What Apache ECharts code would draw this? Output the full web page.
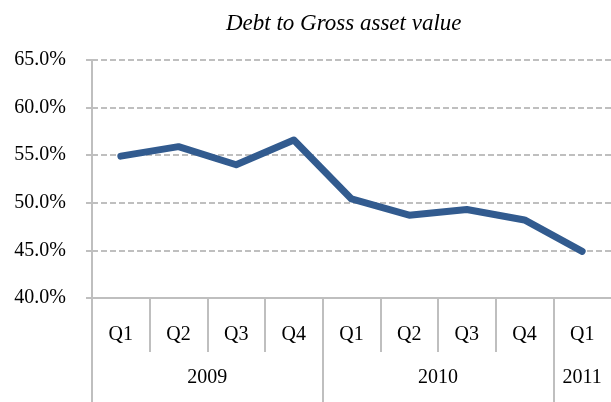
<!DOCTYPE html>
<html>
<head>
<meta charset="utf-8">
<script src="https://cdn.jsdelivr.net/npm/echarts@6/dist/echarts.min.js"></script>
<style>
  html, body { margin: 0; padding: 0; background: #fff; }
  #chart { width: 611px; height: 402px; }
</style>
</head>
<body>
<div id="chart"></div>
<script>
const quarters = ['Q1', 'Q2', 'Q3', 'Q4', 'Q1', 'Q2', 'Q3', 'Q4', 'Q1']
const debtRatio = [54.9, 55.9, 54.0, 56.6, 50.4, 48.7, 49.3, 48.2, 44.9]
// years as [label, first quarter index, quarter count]
const years = [['2009', 0, 4], ['2010', 4, 4], ['2011', 8, 1]]

const font = 'Liberation Serif'
const grey = '#bfbfbf'

const quarterBounds = quarters.map((q, i) => i)
const yearBounds = years.map(y => y[1])
const yearCenters = years.map(y => y[1] + y[2] / 2)

const chart = echarts.init(document.getElementById('chart'))

chart.setOption({
  animation: false,
  title: {
    text: 'Debt to Gross asset value',
    left: 226,
    top: 12,
    padding: 0,
    textStyle: {
      fontFamily: font,
      fontStyle: 'italic',
      fontWeight: 'normal',
      fontSize: 23,
      color: '#000'
    }
  },
  grid: {
    left: 92,
    right: -3,
    top: 60,
    bottom: 104
  },
  xAxis: [
    {
      type: 'category',
      data: quarters,
      boundaryGap: true,
      axisLine: { lineStyle: { color: grey, width: 2 } },
      axisTick: { show: false },
      axisLabel: {
        interval: 0,
        margin: 27,
        fontFamily: font,
        fontSize: 20,
        color: '#000'
      }
    },
    {
      // quarter separators
      type: 'value',
      position: 'bottom',
      min: 0,
      max: 9,
      axisLine: { show: false },
      splitLine: { show: false },
      axisLabel: { show: false },
      axisTick: {
        customValues: quarterBounds,
        length: 54,
        lineStyle: { color: grey, width: 2 }
      }
    },
    {
      // year separators and labels
      type: 'value',
      position: 'bottom',
      min: 0,
      max: 9,
      axisLine: { show: false },
      splitLine: { show: false },
      axisTick: {
        customValues: yearBounds,
        length: 110,
        lineStyle: { color: grey, width: 2 }
      },
      axisLabel: {
        customValues: yearCenters,
        margin: 70,
        fontFamily: font,
        fontSize: 20,
        color: '#000',
        formatter: v => {
          const y = years.find(y => y[1] + y[2] / 2 === v)
          return y ? y[0] : ''
        }
      }
    }
  ],
  yAxis: {
    type: 'value',
    min: 40,
    max: 65,
    interval: 5,
    axisLine: { show: true, lineStyle: { color: grey, width: 2 } },
    axisTick: { show: true, length: 6, lineStyle: { color: grey, width: 2 } },
    axisLabel: {
      margin: 26,
      fontFamily: font,
      fontSize: 20,
      color: '#000',
      formatter: v => v.toFixed(1) + '%'
    },
    splitLine: {
      lineStyle: { color: grey, type: [6, 3], width: 2 }
    }
  },
  series: [
    {
      name: 'Debt to Gross asset value',
      type: 'line',
      data: debtRatio,
      symbol: 'none',
      lineStyle: { color: '#325b8f', width: 7, cap: 'round', join: 'round' }
    }
  ]
})
</script>
</body>
</html>
